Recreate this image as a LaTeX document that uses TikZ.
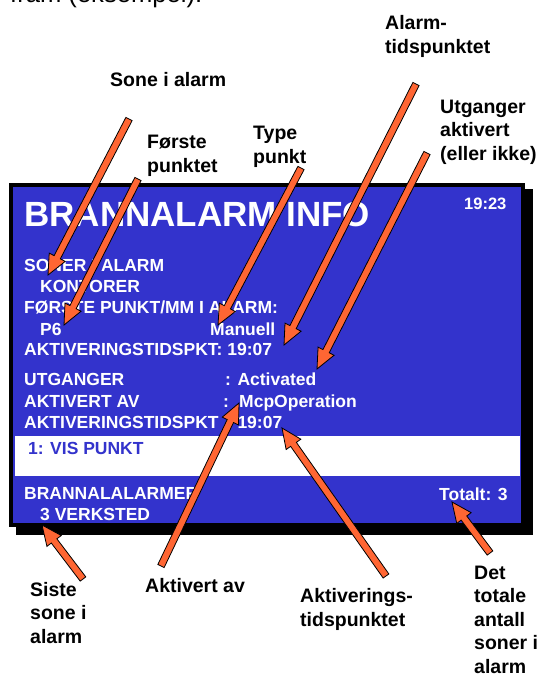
\documentclass[tikz,border=0pt]{standalone}
\usepackage{fontspec}
\setmainfont{Liberation Sans}
\usetikzlibrary{calc}
\definecolor{skjermblaa}{RGB}{51,51,204}
\definecolor{pilfarge}{RGB}{255,102,51}
\tikzset{
  skjerm/.style={anchor=base west,inner sep=0pt,text=white,font=\fontsize{17.5}{21}\selectfont\bfseries},
  merknad/.style={anchor=base west,inner sep=0pt,align=left,font=\fontsize{19.5}{23.5}\selectfont\bfseries},
}
% blokkpil fra hale #1 til spiss #2
\newcommand\blokkpil[2]{%
  \coordinate (pilbase) at ($(#2)!20pt!(#1)$);
  \filldraw[fill=pilfarge,draw=black,line width=.8pt]
    ($(#1)!3.5pt!90:(#2)$)--($(pilbase)!3.5pt!90:(#2)$)--($(pilbase)!9pt!90:(#2)$)--(#2)
    --($(pilbase)!9pt!-90:(#2)$)--($(pilbase)!3.5pt!-90:(#2)$)--($(#1)!3.5pt!-90:(#2)$)--cycle;
}
\begin{document}
\begin{tikzpicture}[x=1pt,y=-1pt]
\useasboundingbox(0,0)rectangle(538,675);
\clip(0,0)rectangle(538,675);
\node[anchor=base west,inner sep=0pt,font=\fontsize{25.6}{30}\selectfont](innledning)at(10,2.5){fram (eksempel).};
% merknader (base = siste linje)
\node[merknad](alarmtid)at(385,53){Alarm-\\tidspunktet};
\node[merknad](sone)at(110,86){Sone i alarm};
\node[merknad](utganger)at(440,160){Utganger\\aktivert\\(eller ikke)};
\node[merknad](type)at(253,163){Type\\punkt};
\node[merknad](forste)at(147,172){Første\\punktet};
\node[merknad](siste)at(30,643){Siste\\sone i\\alarm};
\node[merknad](aktav)at(145,592){Aktivert av};
\node[merknad](akttid)at(300,626){Aktiverings-\\tidspunktet};
\node[merknad](totalt)at(474,673){Det\\totale\\antall\\soner i\\alarm};
% skjermen
\fill(16,189)rectangle(533,535);
\filldraw[fill=skjermblaa,draw=black,line width=4pt](11,185)rectangle(523,525);
\node[skjerm,font=\fontsize{35}{40}\selectfont\bfseries](tittel)at(24,226){BRANNALARM INFO};
\node[skjerm,font=\fontsize{16.5}{20}\selectfont\bfseries](klokke)at(464,209){19:23};
\node[skjerm](s1)at(24,271){SONER I ALARM};
\node[skjerm](s2)at(40,292){KONTORER};
\node[skjerm](s3)at(24,313){FØRSTE PUNKT/MM I ALARM:};
\node[skjerm](s4)at(40,335){P6};
\node[skjerm](s4b)at(210,335){Manuell};
\node[skjerm](s5)at(24,355){AKTIVERINGSTIDSPKT: 19:07};
\node[skjerm](s6)at(24,385){UTGANGER};
\node[skjerm](s6b)at(225,385){: Activated};
\node[skjerm](s7)at(24,407){AKTIVERT AV};
\node[skjerm](s7b)at(223,407){:};
\node[skjerm](s7c)at(239,407){McpOperation};
\node[skjerm](s8)at(24,428){AKTIVERINGSTIDSPKT};
\node[skjerm](s8b)at(225,428){: 19:07};
\fill[white](15,436)rectangle(520,476);
\node[skjerm,text=skjermblaa](meny)at(28,454){1: VIS PUNKT};
\node[skjerm](s9)at(24,499){BRANNALALARMER};
\node[skjerm](s10)at(40,520){3 VERKSTED};
\node[skjerm](s11)at(439,500){Totalt: 3};
% piler
\coordinate(sone-hale)at(129,119);\coordinate(sone-spiss)at(48,275);
\coordinate(forste-hale)at(138,179);\coordinate(forste-spiss)at(64,325);
\coordinate(type-hale)at(301,168);\coordinate(type-spiss)at(218,325);
\coordinate(alarm-hale)at(416,84);\coordinate(alarm-spiss)at(284,345);
\coordinate(utg-hale)at(427,153);\coordinate(utg-spiss)at(317,369);
\coordinate(siste-hale)at(83,579);\coordinate(siste-spiss)at(42,525);
\coordinate(aktav-hale)at(161,566);\coordinate(aktav-spiss)at(239,403);
\coordinate(akttid-hale)at(386,576);\coordinate(akttid-spiss)at(282,428);
\coordinate(totalt-hale)at(490,553);\coordinate(totalt-spiss)at(452,502);
\blokkpil{sone-hale}{sone-spiss}
\blokkpil{forste-hale}{forste-spiss}
\blokkpil{type-hale}{type-spiss}
\blokkpil{alarm-hale}{alarm-spiss}
\blokkpil{utg-hale}{utg-spiss}
\blokkpil{siste-hale}{siste-spiss}
\blokkpil{aktav-hale}{aktav-spiss}
\blokkpil{akttid-hale}{akttid-spiss}
\blokkpil{totalt-hale}{totalt-spiss}
\end{tikzpicture}
\end{document}
